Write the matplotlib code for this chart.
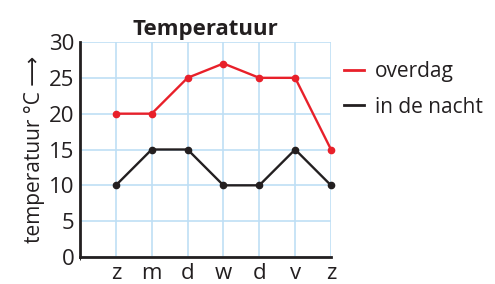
import numpy as np
import matplotlib.pyplot as plt
from matplotlib.lines import Line2D

days = ["z", "m", "d", "w", "d", "v", "z"]
overdag = [20, 20, 25, 27, 25, 25, 15]
nacht = [10, 15, 15, 10, 10, 15, 10]

plt.rcParams["font.family"] = ["Open Sans", "DejaVu Sans"]

red = "#e8202a"
dark = "#231f20"
grid_c = "#bfdff5"

fig = plt.figure(figsize=(4.95, 2.84), dpi=100)
ax = fig.add_axes([80 / 495, 1 - 257 / 284, 251 / 495, 215 / 284])

x = np.arange(1, len(days) + 1)
ax.set_yticks(np.arange(0, 31, 5))
ax.grid(True, color=grid_c, linewidth=1.2, zorder=0)
ax.set_axisbelow(True)

ax.plot(x, overdag, color=red, lw=1.7, marker="o", ms=4.5, clip_on=False, zorder=3)
ax.plot(x, nacht, color=dark, lw=1.7, marker="o", ms=4.5, clip_on=False, zorder=3)

ax.set_xlim(0, 7)
ax.set_ylim(0, 30)
ax.set_xticks(x)
ax.set_xticklabels(days)
ax.set_xticks([0], minor=True)
ax.xaxis.grid(True, which="minor", color=grid_c, linewidth=1.2)
ax.tick_params(length=0, labelsize=16, colors=dark, pad=4)

for s in ["top", "right"]:
    ax.spines[s].set_visible(False)
for s in ["left", "bottom"]:
    ax.spines[s].set_linewidth(2)
    ax.spines[s].set_color(dark)

ax.set_title("Temperatuur", fontsize=16, fontweight="bold", pad=5, color=dark)
ax.set_ylabel("temperatuur °C \u27f6", fontsize=15, labelpad=3, color=dark)

handles = [Line2D([], [], color=red, lw=2), Line2D([], [], color=dark, lw=2)]
ax.legend(handles, ["overdag", "in de nacht"], loc="upper left",
          bbox_to_anchor=(1.0, 0.97), frameon=False, handlelength=1.0,
          handletextpad=0.5, fontsize=15, labelspacing=0.7,
          borderaxespad=0.2, labelcolor=dark)

fig.savefig("out.png", dpi=100)
